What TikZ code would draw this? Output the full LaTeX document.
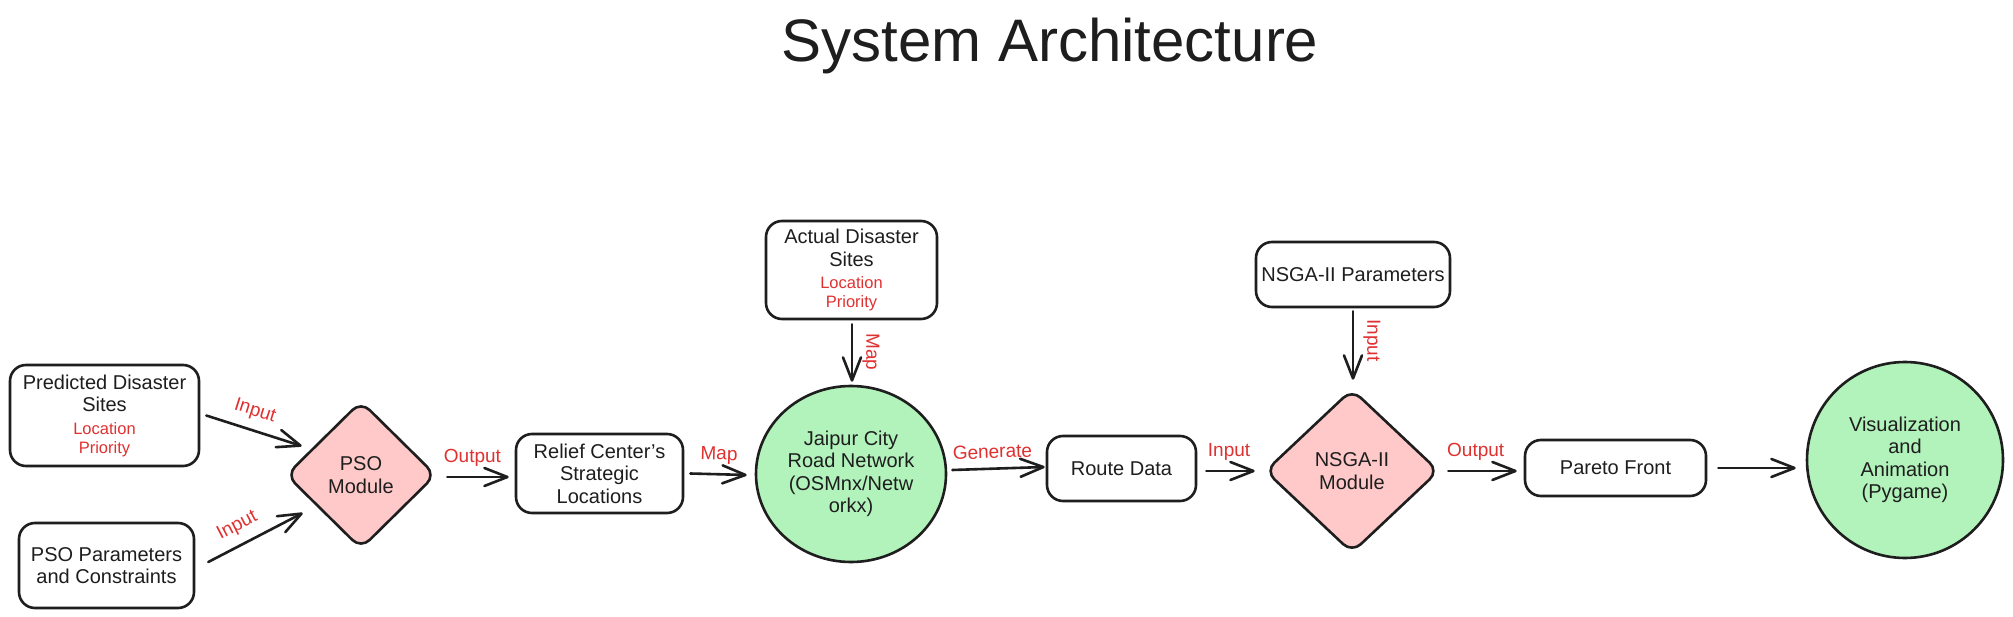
\documentclass[tikz,border=0pt]{standalone}
\usepackage{fontspec}
\setmainfont{Liberation Sans}
\usetikzlibrary{arrows.meta,shapes.geometric,calc}
\definecolor{ink}{HTML}{1E1E1E}
\definecolor{lbl}{HTML}{E03131}
\definecolor{pinkf}{HTML}{FFC9C9}
\definecolor{greenf}{HTML}{B2F2BB}
\newcommand{\subtxt}{\color{lbl}\fontsize{16.5}{19}\selectfont}
\begin{document}
\begin{tikzpicture}[x=1pt,y=-1pt,
  mainfont/.style={font=\fontsize{20}{22.5}\selectfont, text=ink},
  box/.style={draw=ink, line width=2.6pt, rounded corners=16pt, fill=white, align=center, inner sep=0pt, mainfont},
  dia/.style={diamond, draw=ink, line width=2.6pt, rounded corners=12pt, fill=pinkf, align=center, inner sep=0pt, mainfont},
  circ/.style={ellipse, draw=ink, line width=2.6pt, fill=greenf, align=center, inner sep=0pt, mainfont},
  arr/.style={draw=ink, line width=2.6pt, line cap=round, -{Straight Barb[length=23pt,width=18pt,round]}},
  lab/.style={text=lbl, font=\fontsize{19}{21}\selectfont, inner sep=0pt, sloped, above=9pt}
]
\fill[white] (0,0) rectangle (2013,617);
\useasboundingbox (0,0) rectangle (2013,617);

\node[font=\fontsize{60}{62}\selectfont, text=ink, anchor=base] (title) at (1050,62) {System Architecture};

\node[box, minimum width=189pt, minimum height=101pt] (pred) at (104.5,415.5)
  {Predicted Disaster\\Sites\\{\subtxt Location}\\[-3.5pt]{\subtxt Priority}};
\node[box, minimum width=175pt, minimum height=85pt] (psopar) at (106.5,565.5)
  {PSO Parameters\\and Constraints};
\node[dia, minimum width=150pt, minimum height=148pt] (pso) at (361,475) {PSO\\Module};
\node[box, minimum width=167pt, minimum height=79pt] (relief) at (599.5,473.5)
  {Relief Center's\\Strategic\\Locations};
\node[box, minimum width=171pt, minimum height=98pt] (actual) at (851.5,270)
  {Actual Disaster\\Sites\\{\subtxt Location}\\[-3.5pt]{\subtxt Priority}};
\node[circ, minimum width=190pt, minimum height=176pt] (jaipur) at (851,474)
  {Jaipur City\\Road Network\\(OSMnx/Netw\\orkx)};
\node[box, minimum width=149pt, minimum height=65pt] (route) at (1121.5,468.5) {Route Data};
\node[box, minimum width=194pt, minimum height=65pt] (nsgapar) at (1353,274.5) {NSGA-II Parameters};
\node[dia, minimum width=174pt, minimum height=164pt] (nsga) at (1352,471) {NSGA-II\\Module};
\node[box, minimum width=181pt, minimum height=56pt] (pareto) at (1615.5,468) {Pareto Front};
\node[circ, minimum width=196pt, minimum height=196pt] (viz) at (1905,460)
  {Visualization\\and\\Animation\\(Pygame)};

\draw[arr] ($(pred.east)+(6,0)$) -- node[lab, pos=0.45]{Input} ($(pso.west)+(17,-29)$);
\draw[arr] ($(psopar.east)+(13,-3.5)$) -- node[lab, pos=0.4]{Input} ($(pso.west)+(18,38)$);
\draw[arr] ($(pso.east)+(10,2)$) -- node[lab, pos=0.41]{Output} ($(relief.west)+(-6,3.5)$);
\draw[arr] ($(relief.east)+(6,0)$) -- node[lab, pos=0.5]{Map} ($(jaipur.west)+(-8,1)$);
\draw[arr] ($(actual.south)+(0.5,4)$) -- node[lab, pos=0.48, allow upside down]{Map} ($(jaipur.north)+(1,-3)$);
\draw[arr] ($(jaipur.east)+(5,-4)$) -- node[lab, pos=0.44]{Generate} ($(route.west)+(-1,-1.5)$);
\draw[arr] ($(route.east)+(9,2.5)$) -- node[lab, pos=0.47]{Input} ($(nsga.west)+(-9,0)$);
\draw[arr] ($(nsgapar.south)+(0,3)$) -- node[lab, pos=0.43, allow upside down]{Input} ($(nsga.north)+(1,-8)$);
\draw[arr] ($(nsga.east)+(8,0)$) -- node[lab, pos=0.4]{Output} ($(pareto.west)+(-7,3)$);
\draw[arr] ($(pareto.east)+(11,0)$) -- ($(viz.west)+(-10,8)$);
\end{tikzpicture}
\end{document}
